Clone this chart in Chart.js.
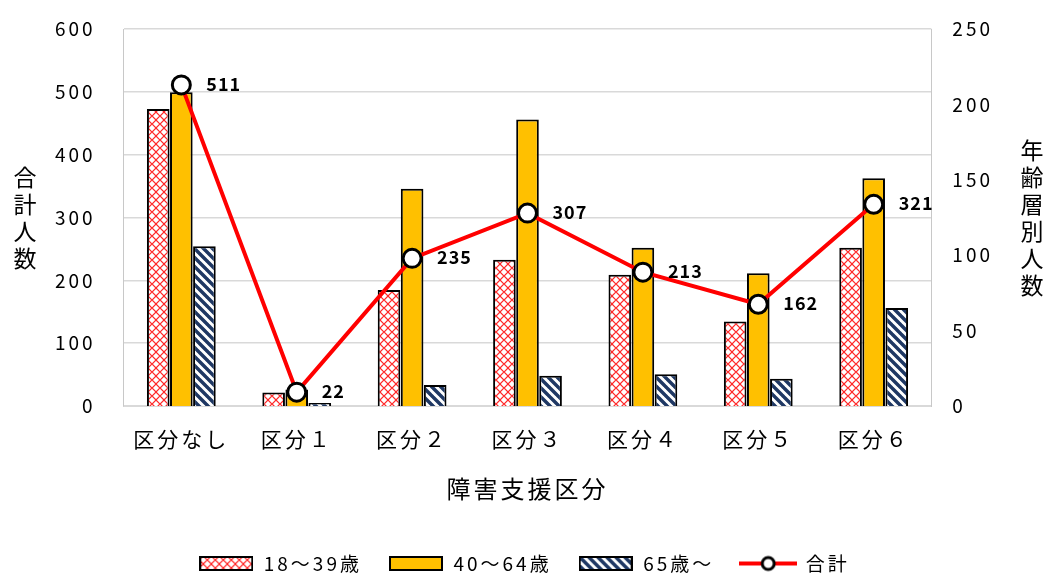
<!DOCTYPE html>
<html>
<head>
<meta charset="utf-8">
<script src="https://cdn.jsdelivr.net/npm/chart.js@4/dist/chart.umd.min.js"></script>
<style>
  body { margin: 0; background: #fff; }
  #wrap { width: 1048px; height: 575px; }
</style>
</head>
<body>
<div id="wrap"><canvas id="grafico"></canvas></div>
<script>
const categorias = ['区分なし', '区分１', '区分２', '区分３', '区分４', '区分５', '区分６'];
const idade18a39 = [197, 9, 77, 97, 87, 56, 105];
const idade40a64 = [208, 11, 144, 190, 105, 88, 151];
const idade65mais = [106, 2, 14, 20, 21, 18, 65];
const total = [511, 22, 235, 307, 213, 162, 321];
const ticksEsq = [0, 100, 200, 300, 400, 500, 600];
const ticksDir = [0, 50, 100, 150, 200, 250];

const FONTE = "'Noto Sans CJK JP', 'Noto Sans', sans-serif";

// padrao xadrez vermelho (18~39)
function padraoCruz() {
    const c = document.createElement('canvas');
    c.width = 8; c.height = 8;
    const g = c.getContext('2d');
    g.fillStyle = '#fff';
    g.fillRect(0, 0, 8, 8);
    g.strokeStyle = '#ff2828';
    g.lineWidth = 1.2;
    g.beginPath();
    g.moveTo(0, 4); g.lineTo(4, 0);
    g.moveTo(4, 8); g.lineTo(8, 4);
    g.moveTo(0, 4); g.lineTo(4, 8);
    g.moveTo(4, 0); g.lineTo(8, 4);
    g.stroke();
    return g.createPattern(c, 'repeat');
}

// padrao listrado azul (65~)
function padraoListra() {
    const c = document.createElement('canvas');
    c.width = 9; c.height = 9;
    const g = c.getContext('2d');
    g.fillStyle = '#fff';
    g.fillRect(0, 0, 9, 9);
    g.strokeStyle = '#1f3864';
    g.lineWidth = 3.5;
    g.beginPath();
    g.moveTo(-1, -1); g.lineTo(10, 10);
    g.moveTo(-1, 8); g.lineTo(1, 10);
    g.moveTo(8, -1); g.lineTo(10, 1);
    g.stroke();
    return g.createPattern(c, 'repeat');
}

const pCruz = padraoCruz();
const pListra = padraoListra();

function iconeBarra(fill) {
    const c = document.createElement('canvas');
    c.width = 54; c.height = 15;
    const g = c.getContext('2d');
    g.fillStyle = fill;
    g.fillRect(1, 1, 52, 13);
    g.strokeStyle = '#000';
    g.lineWidth = 2;
    g.strokeRect(1, 1, 52, 13);
    return c;
}

function iconeLinha() {
    const c = document.createElement('canvas');
    c.width = 58; c.height = 18;
    const g = c.getContext('2d');
    g.strokeStyle = '#ff0000';
    g.lineWidth = 4;
    g.beginPath(); g.moveTo(0, 9); g.lineTo(58, 9); g.stroke();
    g.fillStyle = '#fff';
    g.strokeStyle = '#000';
    g.lineWidth = 3;
    g.beginPath(); g.arc(29, 9, 6, 0, Math.PI * 2); g.fill(); g.stroke();
    return c;
}

const icones = [iconeBarra(pCruz), iconeBarra('#ffc000'), iconeBarra(pListra), iconeLinha()];
const nomesLegenda = ['18～39歳', '40～64歳', '65歳～', '合計'];

// o texto do original e espacado, entao aplica letterSpacing no contexto
const espacamento = {
    id: 'espacamento',
    beforeLayout(chart) { chart.ctx.letterSpacing = '3px'; },
    beforeDraw(chart) { chart.ctx.letterSpacing = '3px'; }
};

// titulos verticais e rotulos de dados
const extras = {
    id: 'extras',
    afterDatasetsDraw(chart) {
        const ctx = chart.ctx;
        const meta = chart.getDatasetMeta(3);
        ctx.save();
        ctx.letterSpacing = '1px';
        ctx.font = 'bold 18px ' + FONTE;
        ctx.fillStyle = '#000';
        ctx.textAlign = 'left';
        ctx.textBaseline = 'middle';
        meta.data.forEach(function (p, i) {
            ctx.fillText(String(total[i]), p.x + 25, p.y - 1);
        });
        ctx.restore();
    },
    afterDraw(chart) {
        const ctx = chart.ctx;
        const area = chart.chartArea;
        ctx.save();
        ctx.letterSpacing = '0px';
        ctx.font = '23px ' + FONTE;
        ctx.fillStyle = '#000';
        ctx.textAlign = 'center';
        ctx.textBaseline = 'middle';
        const meio = (area.top + area.bottom) / 2;
        const esq = '合計人数'.split('');
        esq.forEach(function (ch, i) {
            ctx.fillText(ch, 25, meio + (i - (esq.length - 1) / 2) * 27);
        });
        const dir = '年齢層別人数'.split('');
        dir.forEach(function (ch, i) {
            ctx.fillText(ch, 1032, meio + (i - (dir.length - 1) / 2) * 27);
        });
        ctx.restore();
    }
};

const barraBase = {
    type: 'bar',
    yAxisID: 'y1',
    borderColor: '#000',
    borderWidth: 2,
    barPercentage: 0.98,
    categoryPercentage: 0.6,
    order: 1
};

const config = {
    data: {
        labels: categorias,
        datasets: [
            Object.assign({}, barraBase, { label: nomesLegenda[0], data: idade18a39, backgroundColor: pCruz }),
            Object.assign({}, barraBase, { label: nomesLegenda[1], data: idade40a64, backgroundColor: '#ffc000' }),
            Object.assign({}, barraBase, { label: nomesLegenda[2], data: idade65mais, backgroundColor: pListra }),
            {
                type: 'line',
                label: nomesLegenda[3],
                data: total,
                yAxisID: 'y',
                borderColor: '#ff0000',
                borderWidth: 4,
                pointRadius: 9,
                pointBorderWidth: 3,
                pointBackgroundColor: '#fff',
                pointBorderColor: '#000',
                tension: 0,
                order: 0
            }
        ]
    },
    options: {
        responsive: true,
        maintainAspectRatio: false,
        animation: false,
        layout: { padding: { left: 52, right: 52, top: 29, bottom: -8 } },
        plugins: {
            tooltip: { enabled: false },
            legend: {
                position: 'bottom',
                labels: {
                    usePointStyle: true,
                    pointStyleWidth: 56,
                    boxHeight: 15,
                    padding: 26,
                    color: '#000',
                    font: { family: FONTE, size: 19 },
                    generateLabels: function () {
                        return nomesLegenda.map(function (n, i) {
                            return { text: n, pointStyle: icones[i], datasetIndex: i, fillStyle: '#fff', strokeStyle: '#fff', lineWidth: 0, fontColor: '#000' };
                        });
                    }
                }
            }
        },
        scales: {
            x: {
                grid: { display: false, drawTicks: false },
                border: { display: true, color: '#d9d9d9' },
                ticks: { color: '#000', padding: 20, font: { family: FONTE, size: 21 } },
                title: {
                    display: true,
                    text: '障害支援区分',
                    color: '#000',
                    font: { family: FONTE, size: 24 },
                    padding: { top: 3, bottom: 25 }
                }
            },
            y: {
                position: 'left',
                min: 0,
                max: 600,
                afterBuildTicks: function (s) { s.ticks = ticksEsq.map(function (v) { return { value: v }; }); },
                grid: { color: '#d9d9d9', lineWidth: 1.5, drawTicks: true, tickLength: 25, tickColor: 'rgba(0,0,0,0)' },
                border: { display: true, color: '#c8c8c8' },
                ticks: { color: '#000', padding: 3, font: { family: FONTE, size: 19 } }
            },
            y1: {
                position: 'right',
                min: 0,
                max: 250,
                afterBuildTicks: function (s) { s.ticks = ticksDir.map(function (v) { return { value: v }; }); },
                grid: { display: false, drawTicks: true, tickLength: 18 },
                border: { display: true, color: '#c8c8c8' },
                ticks: { color: '#000', padding: 3, font: { family: FONTE, size: 19 } }
            }
        }
    },
    plugins: [espacamento, extras]
};

new Chart(document.getElementById('grafico').getContext('2d'), config);
</script>
</body>
</html>
